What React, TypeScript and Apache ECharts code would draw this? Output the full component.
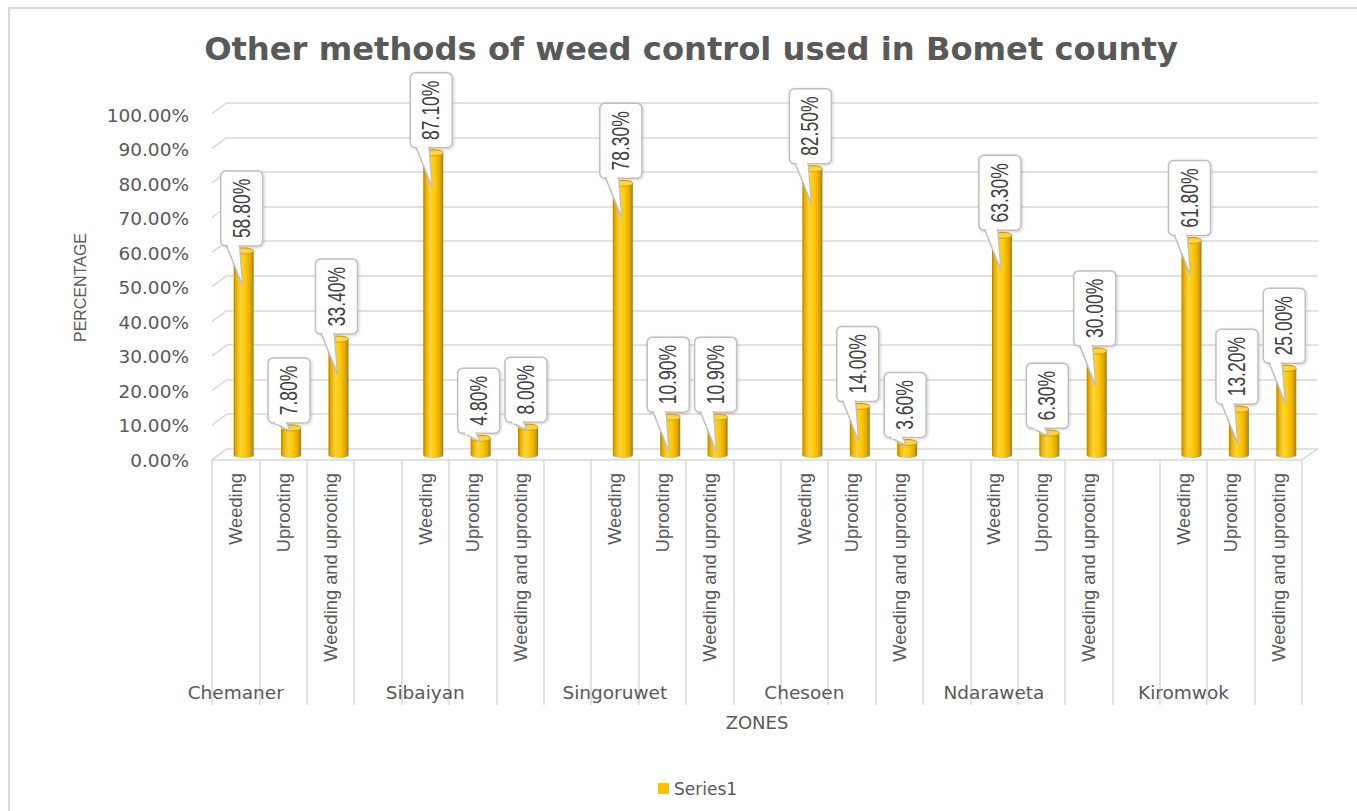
import React, { useEffect, useRef } from "react";
import * as echarts from "echarts";

// ---- Data ----
const zones = ["Chemaner", "Sibaiyan", "Singoruwet", "Chesoen", "Ndaraweta", "Kiromwok"];
const methods = ["Weeding", "Uprooting", "Weeding and uprooting"];
const chemaner = [58.8, 7.8, 33.4];
const sibaiyan = [87.1, 4.8, 8.0];
const singoruwet = [78.3, 10.9, 10.9];
const chesoen = [82.5, 14.0, 3.6];
const ndaraweta = [63.3, 6.3, 30.0];
const kiromwok = [61.8, 13.2, 25.0];
const zoneValues = [chemaner, sibaiyan, singoruwet, chesoen, ndaraweta, kiromwok];
const yTicks = [0, 10, 20, 30, 40, 50, 60, 70, 80, 90, 100];
const seriesName = "Series1";

// categories: each zone's three methods, with an empty slot between zones
const categories: string[] = [];
const zoneRow: string[] = [];
const values: (number | null)[] = [];
zones.forEach((z, i) => {
  zoneValues[i].forEach((v, j) => {
    categories.push(methods[j]);
    zoneRow.push(j === 0 ? z : "");
    values.push(v);
  });
  if (i < zones.length - 1) {
    categories.push("");
    zoneRow.push("");
    values.push(null);
  }
});
const barData = values
  .map((v, i) => (v === null ? null : [i, v]))
  .filter((d) => d !== null) as number[][];

const GRID_LINE = "#D9D9D9";
const TEXT = "#595959";

export default function App() {
  const ref = useRef<HTMLDivElement>(null);
  useEffect(() => {
    if (!ref.current) return;
    const chart = echarts.init(ref.current, null, { renderer: "svg" });

    const barGrad = () =>
      new echarts.graphic.LinearGradient(0, 0, 1, 0, [
        { offset: 0, color: "#B08000" },
        { offset: 0.12, color: "#E8AE00" },
        { offset: 0.35, color: "#FFD43B" },
        { offset: 0.6, color: "#FFC800" },
        { offset: 0.85, color: "#E0A600" },
        { offset: 1, color: "#A87A00" },
      ]);

    const option: any = {
      animation: false,
      backgroundColor: "#FFFFFF",
      title: {
        text: "Other methods of weed control used in Bomet county",
        left: 686,
        top: 28,
        textAlign: "center",
        textStyle: {
          fontFamily: "DejaVu Sans",
          fontWeight: "bold",
          fontSize: 32.2,
          color: TEXT,
        },
      },
      legend: {
        left: 653,
        top: 775,
        itemWidth: 11,
        itemHeight: 11,
        textStyle: { fontFamily: "DejaVu Sans", fontSize: 17, color: TEXT },
        data: [{ name: seriesName, icon: "rect" }],
      },
      graphic: [
        {
          type: "rect",
          silent: true,
          shape: { x: 9, y: 8, width: 1400, height: 900 },
          style: { fill: "none", stroke: GRID_LINE, lineWidth: 2 },
        },
      ],
      grid: [
        // front plane (axes, labels, separators)
        { left: 212, top: 115, width: 1090, height: 345 },
        // back wall (gridlines)
        { left: 227, top: 102.7, width: 1091, height: 346 },
        // bars (mid depth)
        { left: 220, top: 108, width: 1090, height: 347 },
      ],
      xAxis: [
        {
          type: "category",
          gridIndex: 0,
          data: categories,
          boundaryGap: true,
          axisLine: { show: true, lineStyle: { color: GRID_LINE, width: 1.5 } },
          axisTick: {
            show: true,
            interval: 0,
            length: 245,
            lineStyle: { color: GRID_LINE, width: 1.5 },
          },
          axisLabel: {
            interval: 0,
            rotate: 90,
            margin: 13,
            fontFamily: "Liberation Sans",
            fontSize: 18.3,
            color: TEXT,
          },
          name: "ZONES",
          nameLocation: "middle",
          nameGap: 253,
          nameTextStyle: { fontFamily: "DejaVu Sans", fontSize: 18, color: TEXT },
        },
        {
          type: "category",
          gridIndex: 0,
          data: zoneRow,
          position: "bottom",
          offset: 215,
          axisLine: { show: false },
          axisTick: { show: false },
          axisLabel: {
            interval: 0,
            margin: 8,
            fontFamily: "DejaVu Sans",
            fontSize: 18.5,
            color: TEXT,
          },
        },
        { type: "category", gridIndex: 1, data: categories, show: false },
        { type: "category", gridIndex: 2, data: categories, show: false },
      ],
      yAxis: [
        {
          type: "value",
          gridIndex: 0,
          min: 0,
          max: 100,
          interval: 10,
          axisLine: { show: false },
          axisTick: { show: false },
          splitLine: { show: false },
          axisLabel: {
            margin: 23,
            fontFamily: "DejaVu Sans",
            fontSize: 18.5,
            color: TEXT,
            formatter: (v: number) => v.toFixed(2) + "%",
          },
          name: "PERCENTAGE",
          nameLocation: "middle",
          nameGap: 124,
          nameRotate: 90,
          nameTextStyle: { fontFamily: "Liberation Sans", fontSize: 16, color: TEXT },
        },
        {
          type: "value",
          gridIndex: 1,
          min: 0,
          max: 100,
          interval: 10,
          axisLine: { show: false },
          axisTick: { show: false },
          axisLabel: { show: false },
          splitLine: { show: true, lineStyle: { color: GRID_LINE, width: 1.5 } },
        },
        { type: "value", gridIndex: 2, min: 0, max: 100, interval: 10, show: false },
      ],
      series: [
        // side-wall diagonals for each gridline
        {
          type: "custom",
          xAxisIndex: 2,
          yAxisIndex: 1,
          silent: true,
          z: 1,
          data: yTicks.map((t) => [0, t]),
          encode: { x: 0, y: 1 },
          renderItem: (params: any, api: any) => {
            const v = api.value(1);
            const p = api.coord([0, v]);
            const cs = params.coordSys;
            const left = cs.x;
            const children: any[] = [
              {
                type: "line",
                shape: { x1: left, y1: p[1], x2: left - 15, y2: p[1] + 11 },
                style: { stroke: GRID_LINE, lineWidth: 1.5 },
              },
            ];
            if (v === 0) {
              const right = cs.x + cs.width;
              children.push({
                type: "line",
                shape: { x1: right, y1: p[1], x2: right - 16, y2: p[1] + 11 },
                style: { stroke: GRID_LINE, lineWidth: 1.5 },
              });
            }
            return { type: "group", children };
          },
        },
        // cylinders
        {
          type: "custom",
          name: seriesName,
          xAxisIndex: 3,
          yAxisIndex: 2,
          z: 3,
          itemStyle: { color: "#FFC000" },
          data: barData,
          encode: { x: 0, y: 1 },
          renderItem: (params: any, api: any) => {
            const idx = api.value(0);
            const val = api.value(1);
            const top = api.coord([idx, val]);
            const base = api.coord([idx, 0]);
            const w = 20;
            const cx = top[0];
            return {
              type: "group",
              children: [
                {
                  type: "ellipse",
                  shape: { cx, cy: base[1], rx: w / 2, ry: 3 },
                  style: { fill: barGrad() },
                },
                {
                  type: "rect",
                  shape: { x: cx - w / 2, y: top[1], width: w, height: base[1] - top[1] },
                  style: { fill: barGrad() },
                },
                {
                  type: "ellipse",
                  shape: { cx, cy: top[1], rx: w / 2, ry: 3 },
                  style: { fill: "#FFD54A", stroke: "#D19E00", lineWidth: 1 },
                },
              ],
            };
          },
        },
        // callout data labels
        {
          type: "custom",
          xAxisIndex: 3,
          yAxisIndex: 2,
          z: 5,
          silent: true,
          data: barData,
          encode: { x: 0, y: 1 },
          renderItem: (params: any, api: any) => {
            const idx = api.value(0);
            const val = api.value(1);
            const top = api.coord([idx, val]);
            const cx = top[0];
            const text = val.toFixed(2) + "%";
            const bw = 42;
            const bh = 10 * text.length + 15;
            const bx = cx - 2 - bw / 2;
            const bb = top[1] - 5;
            const by = bb - bh;
            const tipY = val >= 10 ? bb + 40 : top[1] + 3;
            const b1 = bx + 6;
            const b2 = bx + 19;
            return {
              type: "group",
              children: [
                {
                  type: "rect",
                  shape: { x: bx, y: by, width: bw, height: bh, r: 5 },
                  style: {
                    fill: "#FFFFFF",
                    stroke: "#BFBFBF",
                    lineWidth: 1.5,
                    shadowBlur: 3,
                    shadowColor: "rgba(0,0,0,0.18)",
                    shadowOffsetX: 1,
                    shadowOffsetY: 1,
                  },
                },
                {
                  type: "polygon",
                  shape: { points: [[b1, bb], [b2, bb], [cx - 1, tipY]] },
                  style: { fill: "#FFFFFF", stroke: "#BFBFBF", lineWidth: 1.5 },
                },
                {
                  type: "line",
                  shape: { x1: b1 + 1.2, y1: bb, x2: b2 - 1.2, y2: bb },
                  style: { stroke: "#FFFFFF", lineWidth: 2.5 },
                },
                {
                  type: "text",
                  x: bx + bw / 2,
                  y: by + bh / 2,
                  rotation: Math.PI / 2,
                  scaleY: 1.4,
                  style: {
                    text,
                    fontFamily: "Liberation Sans",
                    fontSize: 17.5,
                    fill: "#404040",
                    align: "center",
                    verticalAlign: "middle",
                  },
                },
              ],
            };
          },
        },
      ],
    };

    chart.setOption(option);
    return () => chart.dispose();
  }, []);

  return (
    <div
      ref={ref}
      style={{ position: "fixed", left: 0, top: 0, width: 1357, height: 811, background: "#fff" }}
    />
  );
}
